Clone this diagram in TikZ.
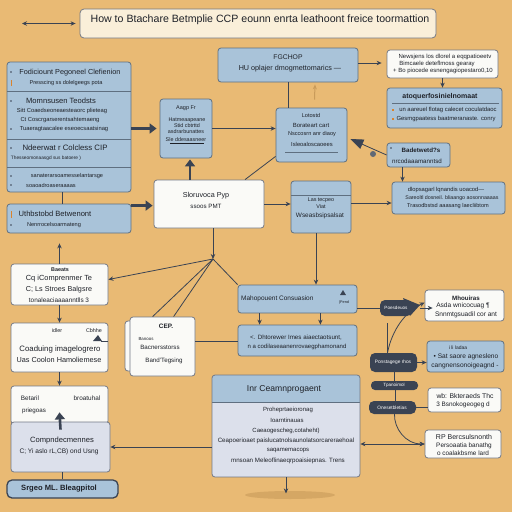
\documentclass[tikz,border=0pt]{standalone}
\usepackage{fontspec}
\setmainfont{Liberation Sans}
\usetikzlibrary{fit,arrows.meta}
\newcommand{\fsz}[1]{\fontsize{#1}{#1}\selectfont}
\definecolor{bgc}{HTML}{E9BA74}
\definecolor{bblue}{HTML}{A9C3D9}
\definecolor{bline}{HTML}{5F6F80}
\definecolor{wfill}{HTML}{FAFAF7}
\definecolor{wline}{HTML}{737986}
\definecolor{navy}{HTML}{3A4353}
\definecolor{txtc}{HTML}{1E2128}
\definecolor{bodyc}{HTML}{DCE0EB}
\definecolor{titlef}{HTML}{FAEFD9}
\definecolor{tanc}{HTML}{C99B5A}
\definecolor{orc}{HTML}{D9832E}
\begin{document}
\begin{tikzpicture}[x=1pt,y=-1pt,
  bbox/.style={draw=bline, fill=bblue, rounded corners=3pt, line width=0.8pt, inner sep=0pt},
  wbox/.style={draw=wline, fill=wfill, rounded corners=3pt, line width=0.8pt, inner sep=0pt},
  pillbox/.style={fill=navy, rounded corners=5pt, inner sep=0pt},
  tx/.style={inner sep=0pt, text=txtc, font=\fsz{5}},
  wt/.style={inner sep=0pt, text=white, font=\fsz{4.8}},
  conn/.style={draw=navy, line width=0.8pt},
  arr/.style={conn, -{Stealth[length=5pt,width=4.5pt]}},
  dbl/.style={conn, {Stealth[length=5pt,width=4.5pt]}-{Stealth[length=5pt,width=4.5pt]}},
  thk/.style={draw=navy, line width=2.6pt, -{Triangle[length=7pt,width=10pt]}}
]
\useasboundingbox (0,0) rectangle (512,512);
\fill[bgc] (0,0) rectangle (512,512);

% title
\node[fit={(80,9) (436,38)}, draw=wline, fill=titlef, rounded corners=4pt, line width=0.8pt, inner sep=0pt] (title) {};
\node[inner sep=0pt, text=txtc, font=\fsz{10.6}] (titlet) at (260,20) {How to Btachare Betmplie CCP eounn enrta leathoont freice toormattion};
\coordinate (ta) at (22,23.5);
\draw[dbl] (ta) -- ([xshift=-4pt]title.west);

% FGCHOP
\node[bbox, fit={(218,48) (358,82)}] (fg) {};
\node[tx, font=\fsz{6.8}] (fg1) at (288,57) {FGCHOP};
\node[tx, font=\fsz{7.2}] (fg2) at (290,69) {HU oplajer dmogmettomarics —};

% top right white
\node[wbox, fit={(387,50) (498,78)}] (tr) {};
\node[tx, font=\fsz{6}] (tr1) at (445,57) {Newsjens los dlorel a eqqpatioeetv};
\node[tx, font=\fsz{6}] (tr2) at (437,64) {Bimcaele deteflmoss gearay};
\node[tx, font=\fsz{6}] (tr3) at (443,71) {+ Bo piocede esnengagiopestaro0,10};

% blue right box
\node[bbox, fit={(387,88) (502,128)}] (bq) {};
\node[tx, font=\fsz{7}\bfseries] (bq1) at (440,97) {atoquerfosinielnomaat};
\draw[bline, line width=0.5pt] (392,103) -- (499,103);
\node[tx, font=\fsz{5.9}] (bq2) at (448,110) {un aareuel flotag calecet coculatdaoc};
\node[tx, font=\fsz{5.9}] (bq3) at (446,119) {Gesmgpaatess baatmeranaste. conry};
\fill[orc] (392,109) rectangle (394,111);
\fill[orc] (392,118) rectangle (394,120);

% left tall box
\node[bbox, fit={(7,62) (131,192)}] (l) {};
\draw[bline, line width=0.6pt] (7,91) -- (131,91);
\draw[bline, line width=0.6pt] (7,139) -- (131,139);
\draw[bline, line width=0.6pt] (7,167) -- (131,167);
\node[tx, font=\fsz{7.3}] (l1) at (70,73) {Fodiciount Pegoneel Clefienion};
\node[tx, font=\fsz{5.6}] (l2) at (66,83) {Presscing ss dolelgeegs pota};
\node[tx, font=\fsz{7.6}] (l3) at (61,101) {Momnsusen Teodsts};
\node[tx, font=\fsz{5.8}] (l4) at (62,111) {Sitt Coaedseoneaesteaorc plieteag};
\node[tx, font=\fsz{5.8}] (l5) at (60,120) {Ct Coscrgarserentsahtemaeng};
\node[tx, font=\fsz{5.8}] (l6) at (64,129) {Tuaeragtaacalee eseoecsaatsinag};
\node[tx, font=\fsz{7.8}] (l7) at (65,148) {Ndeerwat r Colcless CIP};
\node[tx, font=\fsz{4.8}] (l8) at (46,158) {Thesseomonaasgd sus batoere )};
\node[tx, font=\fsz{5.6}] (l9) at (67,176) {sanaterarsoamesselantarsge};
\node[tx, font=\fsz{5.6}] (l10) at (51,185) {soaoadroaseraaaas};
\foreach \yy in {72,101,129,148,176,185} \fill[navy] (11,\yy) circle (0.8pt);
\fill[orc] (10.5,80) rectangle (11.5,86);

% U box
\node[bbox, fit={(7,204) (131,233)}] (u) {};
\node[tx, font=\fsz{7.6}] (u1) at (55,214) {Uthbstobd Betwenont};
\node[tx, font=\fsz{5.6}] (u2) at (54,225) {Nenrrocelsoarmateng};
\fill[navy] (11,225) circle (0.8pt);
\fill[orc] (10.5,211) rectangle (11.5,218);
\draw[conn] ([xshift=-7pt]l.south) -- ([xshift=-7pt]u.north);

% A box
\node[bbox, fit={(160,99) (212,158)}] (a) {};
\node[tx, font=\fsz{5.5}] (a1) at (186,108) {Aagp Fr};
\node[tx, font=\fsz{5.4}] (a2) at (187,120) {Hatmeaapeane};
\node[tx, font=\fsz{5.4}] (a3) at (187,126) {Stid cbtrttd};
\node[tx, font=\fsz{5.4}] (a4) at (186,132) {asdrarbunattes};
\node[tx, font=\fsz{5.4}] (a5) at (186,140) {Sle ddesaasneer};
\draw[txtc, line width=0.4pt] (170,143) -- (204,143);
\draw[thk] (l.east |- a.west) -- ([xshift=-3pt]a.west);

% B box
\node[bbox, fit={(276,108) (347,162)}] (b) {};
\node[tx, font=\fsz{5.6}] (b1) at (311,115) {Lotostd};
\node[tx, font=\fsz{6}] (b2) at (311,125) {Borateart cart};
\node[tx, font=\fsz{5.6}] (b3) at (312,134) {Nsccosrn anr diaoy};
\node[tx, font=\fsz{5.8}] (b4) at (312,144) {Isleoaloscaoees};
\draw[bline, line width=0.5pt] (285,152) -- (338,152);

% W box
\node[wbox, fit={(154,180) (264,228)}] (w) {};
\node[tx, font=\fsz{7.2}] (w1) at (206,196) {Sloruvoca Pyp};
\node[tx, font=\fsz{6.2}] (w2) at (206,206) {ssoos PMT};

% Las box
\node[bbox, fit={(291,181) (351,233)}] (las) {};
\draw[bline, line width=0.6pt] (291,195) -- (351,195);
\node[tx, font=\fsz{5.4}] (las1) at (321,200) {Las tecpeo};
\node[tx, font=\fsz{5.4}] (las2) at (321,207) {Viat};
\node[tx, font=\fsz{6.4}] (las3) at (320,216) {Wseasbsipsalsat};

% Bd box
\node[bbox, fit={(387,143) (450,167)}] (bd) {};
\node[tx, font=\fsz{6.2}\bfseries] (bd1) at (421,150) {Badetwetd?s};
\node[tx, font=\fsz{6.2}] (bd2) at (417,161) {nrcodaaamanntsd};
\fill[navy] (391,148) circle (0.8pt);

% R box
\node[bbox, fit={(392,182) (505,214)}] (r) {};
\node[tx, font=\fsz{5.8}] (r1) at (446,190) {dlopsagarl lqnandis uoacod—};
\node[tx, font=\fsz{5.3}] (r2) at (452,198) {Sareoltl dosneil. bliaango aosonnaaaas};
\node[tx, font=\fsz{5.6}] (r3) at (448,206) {Trasodbstsd aaasang laecliibtom};

% top connectors
\draw[arr] ([yshift=2pt]fg.east) -- ([xshift=-5pt,yshift=1pt]tr.west);
\draw[arr] (tr.south) -- (tr.south |- bq.north);
\draw[conn] (fg.south) -- (fg.south |- b.north);
\draw[draw=tanc, line width=1pt, -{Stealth[length=5pt,width=4pt]}] ([xshift=3pt,yshift=8pt]b.north) -- ([xshift=27pt,yshift=-2pt]fg.south);
\draw[arr] (a.east) -- (a.east -| b.west);
\draw[thk] ([xshift=-19pt]w.north) -- ([xshift=-19pt,yshift=-1pt]w.north |- a.south);
\draw[conn] ([xshift=36pt]w.north) -- ([yshift=6pt]b.south west);
\draw[arr] (w.east) -- (w.east -| las.west);
\draw[arr] ([yshift=4pt]las.east) -- ([yshift=4pt]las.east -| r.west);
\draw[conn, -{Triangle[length=13pt,width=10pt]}] (bd.west) -- ([xshift=3pt,yshift=-4pt]b.east);
\fill[navy!80] (373,154) circle (3pt);
\draw[arr] ([xshift=-16pt]bd.south) -- ([xshift=-16pt]bd.south |- r.north);
\draw[thk] ([yshift=-2pt]u.north east) -- ([yshift=-2pt,xshift=-1pt]u.north east -| w.west);

% lower left stack
\node[wbox, fit={(11,264) (108,305)}] (ba) {};
\node[tx, font=\fsz{5.4}\bfseries] (ba1) at (60,270) {Baeats};
\node[tx, font=\fsz{7.4}] (ba2) at (59,279) {Cq iComprenmer Te};
\node[tx, font=\fsz{7.2}] (ba3) at (59,290) {C; Ls Stroes Balgsre};
\node[tx, font=\fsz{6.4}] (ba4) at (59,300) {tonaleaciaaaanntlls 3};

\node[wbox, fit={(11,323) (108,372)}] (co) {};
\node[tx, font=\fsz{5.4}] (co1) at (57,331) {idler};
\node[tx, font=\fsz{5.4}] (co2) at (94,331) {Cbhhe};
\node[tx, font=\fsz{7.8}] (co3) at (60,349) {Coaduing imagelogrero};
\node[tx, font=\fsz{7.3}] (co4) at (59,360) {Uas Coolon Hamoliemese};
\fill[navy] (93,341) -- (98,335) -- (102,341) -- cycle;
\draw[conn] (101,341) -- (108,341);

\node[wbox, fit={(11,386) (108,424)}] (bt) {};
\node[tx, font=\fsz{6.4}] (bt1) at (30,398) {Betaril};
\node[tx, font=\fsz{6.4}] (bt2) at (87,398) {broatuhal};
\node[tx, font=\fsz{6.2}] (bt3) at (34,411) {priegoas};

\node[fit={(11,422) (110,472)}, draw=wline, fill=bodyc, rounded corners=3pt, line width=0.8pt, inner sep=0pt] (cm) {};
\node[tx, font=\fsz{7.6}] (cm1) at (62,441) {Compndecmennes};
\node[tx, font=\fsz{6.6}] (cm2) at (59,452) {C; Yi aslo rL,CB) ond Usng};
\draw[thk] ([yshift=-8pt]cm.north) -- ([yshift=12pt]bt.south);

\node[fit={(7,480) (118,498)}, draw=navy, fill=bblue, rounded corners=5pt, line width=1.3pt, inner sep=0pt] (sg) {};
\node[tx, font=\fsz{7.6}\bfseries] (sg1) at (59,489) {Srgeo ML. Bleagpitol};

\draw[arr] (ba.north) -- ([yshift=-10pt]ba.north |- u.south);
\draw[arr] (ba.south) -- (co.north);
\draw[arr] (co.south) -- (bt.north);
\draw[conn] ([xshift=2pt]cm.south) -- ([xshift=2pt]cm.south |- sg.north);

% junction
\coordinate (j) at (213,259);
\draw[arr] ([xshift=4pt]w.south) -- (j);

% CEP
\draw[wbox] (125,321) rectangle (189,371);
\node[wbox, fit={(130,317) (195,376)}] (cep) {};
\node[tx, font=\fsz{6.4}\bfseries] (cep1) at (166,326) {CEP.};
\node[tx, font=\fsz{4.4}] (cep2) at (146,339) {Banoos};
\node[tx, font=\fsz{6.2}] (cep3) at (160,347) {Bacnersstorss};
\node[tx, font=\fsz{6.2}] (cep4) at (164,361) {Band'Tegsing};

% Mh, Dh
\node[bbox, fit={(238,285) (357,313)}] (mh) {};
\node[tx, font=\fsz{6.5}, anchor=west] (mh1) at (241,299) {Mahopouent Consuasion};
\fill[navy] (340,295) -- (343,290) -- (346,295) -- cycle;
\node[tx, font=\fsz{3.8}] (mh2) at (344,303) {(Pend};
\node[bbox, fit={(238,325) (357,356)}] (dh) {};
\node[tx, font=\fsz{6.2}] (dh1) at (296,338) {<. Dhtorewer Imes aiaectaotsunt,};
\node[tx, font=\fsz{6}] (dh2) at (297,347) {n a codilaseaanenrovaegphamonand};

\draw[arr] (j) -- ([yshift=5pt]ba.east);
\draw[conn] (j) -- ([xshift=23pt]cep.north west);
\draw[conn] (j) -- ([xshift=44pt]cep.north west);
\draw[conn] (j) -- (mh.north west);
\draw[conn] ([yshift=5.5pt]cep.east) -- ([yshift=5.5pt]cep.east -| dh.west);
\draw[arr] ([xshift=-5pt]las.south) -- ([xshift=-5pt]las.south |- mh.north);
\draw[arr] ([xshift=22pt]mh.south west) -- ([xshift=22pt]mh.south west |- dh.north);
\draw[arr] ([xshift=-37pt]mh.south east) -- ([xshift=-37pt]mh.south east |- dh.north);

% In box
\begin{scope}
\clip[rounded corners=3pt] (212,375) rectangle (360,477);
\fill[bodyc] (212,375) rectangle (360,477);
\fill[bblue] (212,375) rectangle (360,402);
\end{scope}
\draw[bline, line width=0.6pt] (212,402) -- (360,402);
\node[fit={(212,375) (360,477)}, draw=wline, rounded corners=3pt, line width=0.8pt, inner sep=0pt] (in) {};
\node[tx, font=\fsz{8.6}] (in0) at (284,389) {Inr Ceamnprogaent};
\node[tx, font=\fsz{6}] (in1) at (288,410) {Proheprtaeioronag};
\node[tx, font=\fsz{6}] (in2) at (287,420) {Ioarntinauas};
\node[tx, font=\fsz{6}] (in3) at (286,431) {Caeaogescheg,cotaheht)};
\node[tx, font=\fsz{6.2}] (in4) at (286,441) {Ceapoerioaet paislucatnolsaunolatsorcareraehoal};
\node[tx, font=\fsz{6}] (in5) at (288,451) {saqamemacops};
\node[tx, font=\fsz{6.2}] (in6) at (288,461) {mnsoan Meleoflinaeqrpoaisiepnas. Trens};
\fill[tanc, opacity=0.6] (290,495) ellipse (45pt and 4pt);
\draw[arr] (in.south) -- ++(0,16);
\draw[arr] ([yshift=-21pt]in.west) -- ([yshift=-21pt]in.west -| cm.east);

% pills
\node[pillbox, fit={(380,300) (412,316)}] (po) {};
\fill[navy] (403,298) -- (420,305) -- (410,316) -- cycle;
\node[wt, font=\fsz{4.6}] (po1) at (396,308) {Poesdeuos};
\node[pillbox, fit={(370,353) (417,372)}] (ps) {};
\node[wt] (ps1) at (393,362) {Ponstagege rhos};
\node[pillbox, rounded corners=4pt, fit={(371,381) (418,390)}] (tp) {};
\node[wt, font=\fsz{4.6}] (tp1) at (394,385.5) {Tpanoimol};
\node[pillbox, fit={(369,401) (416,414)}] (on) {};
\node[wt] (on1) at (392,407.5) {Onesetbletias};

% right boxes
\node[wbox, fit={(425,290) (504,321)}] (mo) {};
\node[tx, font=\fsz{6.2}\bfseries] (mo1) at (466,298) {Mhouiras};
\node[tx, font=\fsz{6.6}] (mo2) at (463,306) {Asda wnicocuag ¶};
\node[tx, font=\fsz{6.6}] (mo3) at (466,315) {Snnmtgsuadil cor ant};
\node[bbox, fit={(427,341) (504,372)}] (sa) {};
\node[tx, font=\fsz{5}] (sa1) at (458,348) {i li ladaa};
\node[tx, font=\fsz{6.6}] (sa2) at (466,357) {• Sat saore agnesleno};
\node[tx, font=\fsz{6.6}] (sa3) at (465,366) {cangnensonoigeagnd -};
\node[wbox, fit={(428,388) (501,412)}] (wb) {};
\node[tx, font=\fsz{6.8}] (wb1) at (465,396) {wb: Bkteraeds Thc};
\node[tx, font=\fsz{6.4}] (wb2) at (463,405) {3 Bsnokogeogeg d};
\node[wbox, fit={(425,430) (501,458)}] (rp) {};
\node[tx, font=\fsz{7}] (rp1) at (464,437) {RP Bercsulsnonth};
\node[tx, font=\fsz{6.4}] (rp2) at (464,446) {Persoaatia banathg};
\node[tx, font=\fsz{6.4}] (rp3) at (463,453) {o coalakbsme lard};

% pill connectors
\draw[conn] ([yshift=-9pt]mh.east) -- ([yshift=-9pt]mh.east -| po.west);
\draw[arr] ([xshift=8pt]po.east) -- ([xshift=8pt]po.east -| mo.west);
\draw[arr] ([xshift=-6pt]ps.north) .. controls (392,330) and (405,312) .. ([yshift=3pt]mo.west);
\draw[conn] ([xshift=-6pt]ps.north) -- ++(0,-30);
\draw[arr] (ps.east) -- (ps.east -| sa.west);
\draw[conn] ([xshift=1pt]ps.south) -- ([xshift=1pt]ps.south |- tp.north);
\draw[conn] ([xshift=1pt]tp.south) -- ([xshift=1pt]tp.south |- on.north);
\draw[conn] (on.east) -- (on.east -| wb.west);
\draw[arr] ([xshift=2pt]on.south) .. controls (394,428) and (405,444) .. (rp.west);
\draw[dbl] (rp.west) -- (rp.west -| in.east);
\end{tikzpicture}
\end{document}
